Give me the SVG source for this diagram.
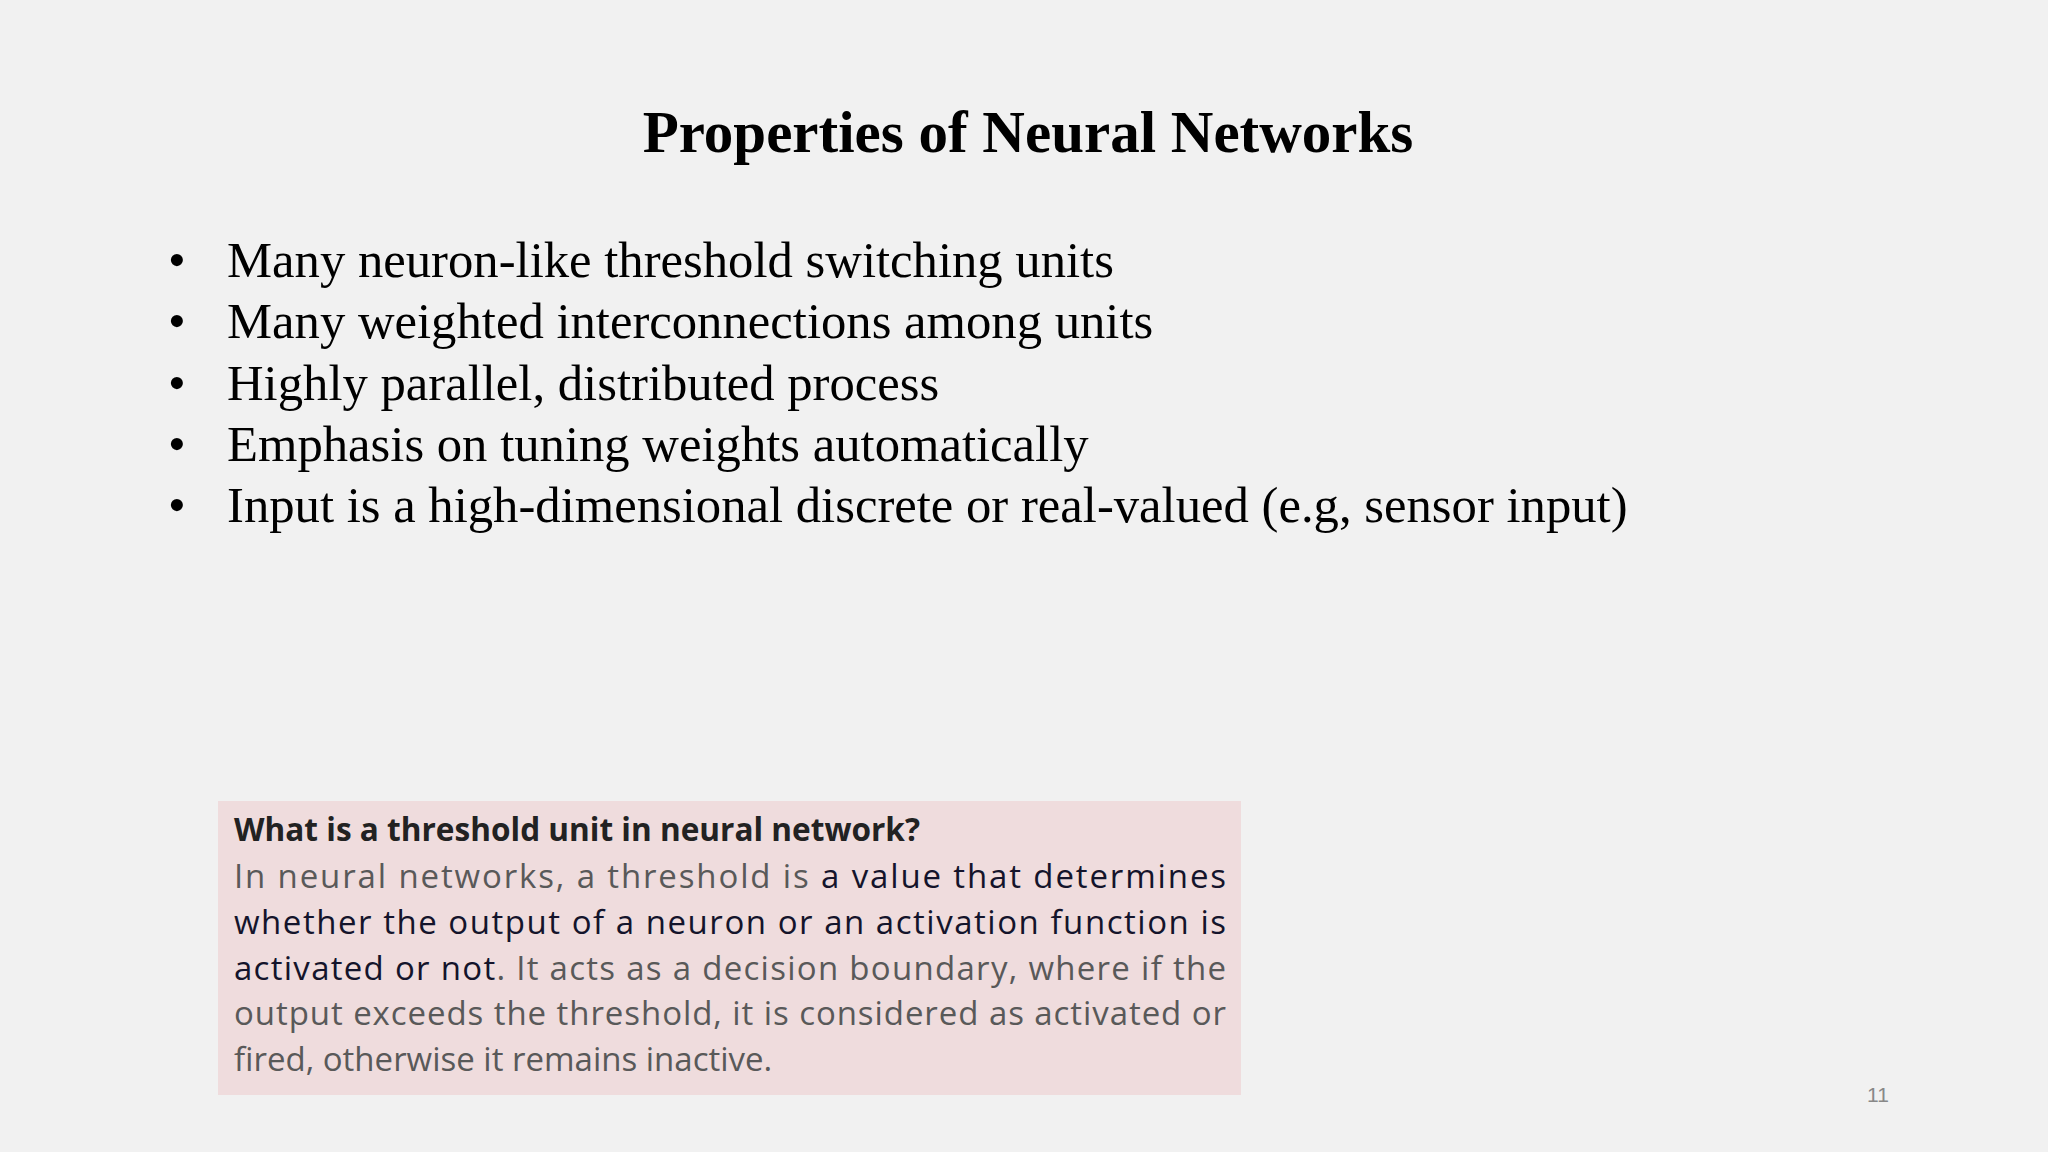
<svg xmlns="http://www.w3.org/2000/svg" width="2048" height="1152" viewBox="0 0 2048 1152">
<style>
.t{font-family:"Liberation Serif",serif;fill:#000}
.b{font-family:"Liberation Serif",serif;font-size:50.7px;fill:#000}
.n{font-family:"Open Sans","Liberation Sans",sans-serif;font-size:33px;fill:#595959}
.d{fill:#14142b}
</style>
<rect width="2048" height="1152" fill="#f1f1f1"/>
<g id="title"><text class="t" x="1028" y="152" font-size="59" font-weight="bold" text-anchor="middle">Properties of Neural Networks</text></g>
<g id="bullets">
<text class="b" x="168" y="277">•</text><text class="b" x="227" y="277">Many neuron-like threshold switching units</text>
<text class="b" x="168" y="338">•</text><text class="b" x="227" y="338">Many weighted interconnections among units</text>
<text class="b" x="168" y="400">•</text><text class="b" x="227" y="400">Highly parallel, distributed process</text>
<text class="b" x="168" y="461">•</text><text class="b" x="227" y="461">Emphasis on tuning weights automatically</text>
<text class="b" x="168" y="522">•</text><text class="b" x="227" y="522">Input is a high-dimensional discrete or real-valued (e.g, sensor input)</text>
</g>
<g id="note">
<rect x="218" y="801" width="1023" height="294" fill="#efdcdd"/>
<text class="n" x="234" y="841" font-weight="bold" style="fill:#222;font-size:32px" textLength="686" lengthAdjust="spacingAndGlyphs">What is a threshold unit in neural network?</text>
<text class="n" x="234" y="888" textLength="992" lengthAdjust="spacing">In neural networks, a threshold is <tspan class="d">a value that determines</tspan></text>
<text class="n d" x="234" y="934" textLength="992" lengthAdjust="spacing">whether the output of a neuron or an activation function is</text>
<text class="n" x="234" y="980" textLength="992" lengthAdjust="spacing"><tspan class="d">activated or not</tspan>. It acts as a decision boundary, where if the</text>
<text class="n" x="234" y="1025" textLength="992" lengthAdjust="spacing">output exceeds the threshold, it is considered as activated or</text>
<text class="n" x="234" y="1071">fired, otherwise it remains inactive.</text>
</g>
<g id="page"><text x="1878" y="1102" font-family="Liberation Sans,sans-serif" font-size="21" fill="#888" text-anchor="middle">11</text></g>
</svg>
